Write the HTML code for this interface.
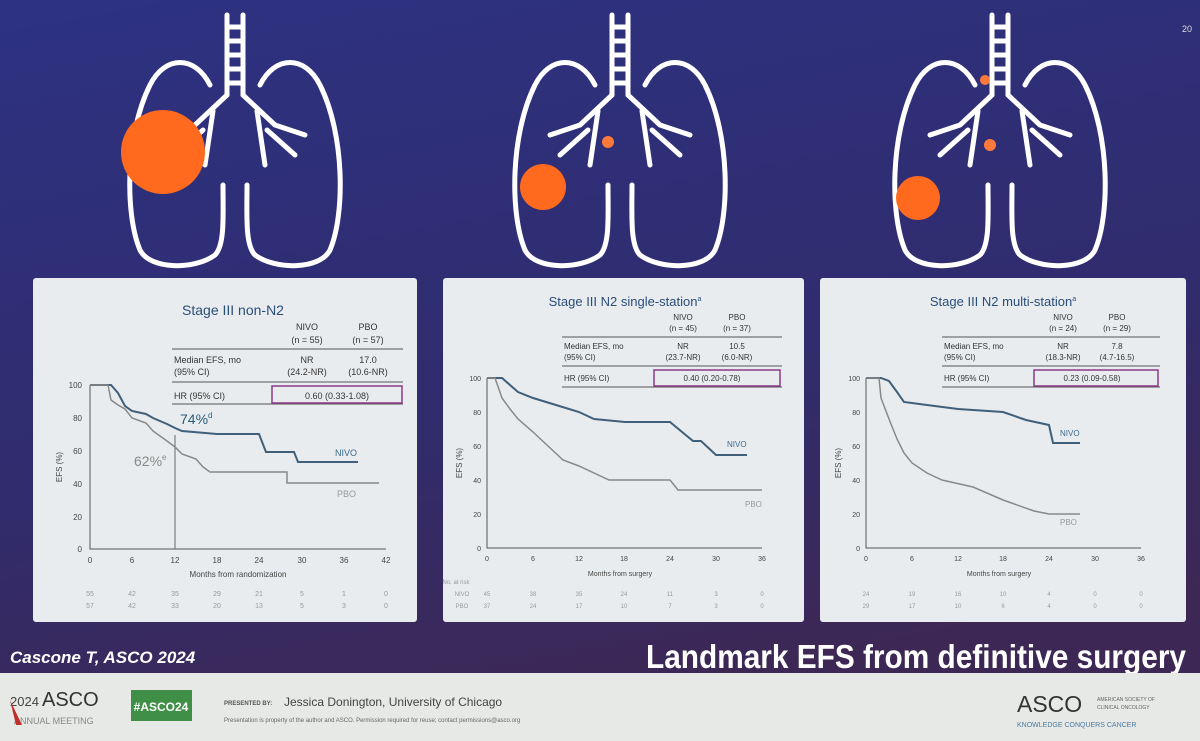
<!DOCTYPE html>
<html><head><meta charset="utf-8"><style>
html,body{margin:0;padding:0;width:1200px;height:741px;overflow:hidden;font-family:"Liberation Sans",sans-serif}
</style></head><body>
<svg width="1200" height="741" viewBox="0 0 1200 741" xmlns="http://www.w3.org/2000/svg" font-family="Liberation Sans, sans-serif">
<defs>
<linearGradient id="bg" x1="0" y1="0" x2="0.3" y2="1">
<stop offset="0" stop-color="#2d3282"/><stop offset="0.6" stop-color="#302c6e"/><stop offset="1" stop-color="#3d2855"/>
</linearGradient>
<g id="lung" fill="none" stroke="#fff" stroke-width="5" stroke-linejoin="round" stroke-linecap="round">
<path d="M-8,0 V80 M8,0 V80 M-8,12 H8 M-8,26 H8 M-8,40 H8 M-8,54 H8 M-8,68 H8"/>
<path d="M-8,80 L-40,110 M8,80 L40,110 M-22,96 L-30,150 M-32,115 L-60,140 M22,96 L30,150 M32,115 L60,140 M-40,110 L-70,120 M40,110 L70,120"/>
<path d="M-25,70 C-40,40 -70,40 -85,70 C-110,120 -110,200 -95,235 C-85,255 -40,255 -20,240 C-10,230 -12,200 -12,170"/>
<path d="M25,70 C40,40 70,40 85,70 C110,120 110,200 95,235 C85,255 40,255 20,240 C10,230 12,200 12,170"/>
</g>
</defs>
<rect width="1200" height="741" fill="url(#bg)"/>
<text x="1182" y="32" fill="#ddd" font-size="9">20</text>
<use href="#lung" x="235" y="15"/>
<use href="#lung" x="620" y="15"/>
<use href="#lung" x="1000" y="15"/>
<circle cx="163" cy="152" r="42" fill="#ff6a1f"/>
<circle cx="543" cy="187" r="23" fill="#ff6a1f"/>
<circle cx="608" cy="142" r="6" fill="#ff7a3a"/>
<circle cx="918" cy="198" r="22" fill="#ff6a1f"/>
<circle cx="990" cy="145" r="6" fill="#ff7a3a"/>
<circle cx="985" cy="80" r="5" fill="#ff7a3a"/>

<!-- panel 1 -->
<rect x="33" y="278" width="384" height="344" rx="3" fill="#e9ecee"/>
<text x="233" y="315" fill="#2a4d7a" font-size="14" text-anchor="middle">Stage III non-N2</text>
<g font-size="9" fill="#333" text-anchor="middle">
<text x="307" y="330">NIVO</text><text x="368" y="330">PBO</text>
<text x="307" y="343">(n = 55)</text><text x="368" y="343">(n = 57)</text>
<text x="307" y="363">NR</text><text x="368" y="363">17.0</text>
<text x="307" y="375">(24.2-NR)</text><text x="368" y="375">(10.6-NR)</text>
<text x="337" y="399">0.60 (0.33-1.08)</text>
</g>
<g font-size="9" fill="#333"><text x="174" y="363">Median EFS, mo</text><text x="174" y="375">(95% CI)</text><text x="174" y="399">HR (95% CI)</text></g>
<line x1="172" y1="349" x2="403" y2="349" stroke="#555"/><line x1="172" y1="382" x2="403" y2="382" stroke="#555"/><line x1="172" y1="404" x2="403" y2="404" stroke="#555"/>
<rect x="272" y="386" width="130" height="17" fill="none" stroke="#8a3a8a" stroke-width="1.5"/>
<g stroke="#555" fill="none"><path d="M90,385 V549 H386"/></g>
<g font-size="8" fill="#444" text-anchor="end"><text x="82" y="388">100</text><text x="82" y="421">80</text><text x="82" y="454">60</text><text x="82" y="487">40</text><text x="82" y="520">20</text><text x="82" y="552">0</text></g>
<g font-size="8" fill="#444" text-anchor="middle"><text x="90" y="563">0</text><text x="132" y="563">6</text><text x="175" y="563">12</text><text x="217" y="563">18</text><text x="259" y="563">24</text><text x="302" y="563">30</text><text x="344" y="563">36</text><text x="386" y="563">42</text>
<text x="238" y="577">Months from randomization</text></g>
<text x="62" y="467" font-size="8" fill="#444" transform="rotate(-90 62 467)" text-anchor="middle">EFS (%)</text>
<line x1="175" y1="435" x2="175" y2="549" stroke="#666"/>
<path d="M90,385 H111 L118,393 L125,406 L132,411 L146,414 L153,418 L167,424 L175,428 L182,431 L217,434 L259,434 L266,452 L294,452 L298,462 L358,462" fill="none" stroke="#3f5f7a" stroke-width="2"/>
<path d="M90,385 H108 L111,400 L118,405 L125,409 L132,418 L146,423 L153,431 L167,441 L175,447 L182,454 L196,459 L203,467 L210,472 L259,472 L287,472 L287,483 L379,483" fill="none" stroke="#888" stroke-width="1.5"/>
<text x="180" y="424" font-size="14" fill="#2a5a7a">74%<tspan font-size="8" dy="-6">d</tspan></text>
<text x="134" y="466" font-size="14" fill="#888">62%<tspan font-size="8" dy="-6">e</tspan></text>
<text x="335" y="456" font-size="9" fill="#3a6a8a">NIVO</text>
<text x="337" y="497" font-size="9" fill="#999">PBO</text>
<g font-size="7" fill="#999" text-anchor="middle"><text x="90" y="596">55</text><text x="132" y="596">42</text><text x="175" y="596">35</text><text x="217" y="596">29</text><text x="259" y="596">21</text><text x="302" y="596">5</text><text x="344" y="596">1</text><text x="386" y="596">0</text>
<text x="90" y="608">57</text><text x="132" y="608">42</text><text x="175" y="608">33</text><text x="217" y="608">20</text><text x="259" y="608">13</text><text x="302" y="608">5</text><text x="344" y="608">3</text><text x="386" y="608">0</text></g>

<!-- panel 2 -->
<rect x="443" y="278" width="361" height="344" rx="3" fill="#e9ecee"/>
<text x="625" y="306" fill="#2a4d7a" font-size="13" text-anchor="middle">Stage III N2 single-station<tspan font-size="7" dy="-5">a</tspan></text>
<g font-size="8" fill="#333" text-anchor="middle">
<text x="683" y="320">NIVO</text><text x="737" y="320">PBO</text>
<text x="683" y="331">(n = 45)</text><text x="737" y="331">(n = 37)</text>
<text x="683" y="349">NR</text><text x="737" y="349">10.5</text>
<text x="683" y="360">(23.7-NR)</text><text x="737" y="360">(6.0-NR)</text>
<text x="712" y="381">0.40 (0.20-0.78)</text>
</g>
<g font-size="8" fill="#333"><text x="564" y="349">Median EFS, mo</text><text x="564" y="360">(95% CI)</text><text x="564" y="381">HR (95% CI)</text></g>
<line x1="562" y1="337" x2="782" y2="337" stroke="#555"/><line x1="562" y1="366" x2="782" y2="366" stroke="#555"/><line x1="562" y1="387" x2="782" y2="387" stroke="#555"/>
<rect x="654" y="370" width="126" height="16" fill="none" stroke="#8a3a8a" stroke-width="1.5"/>
<path d="M487,378 V548 H762" stroke="#555" fill="none"/>
<g font-size="7" fill="#444" text-anchor="end"><text x="481" y="381">100</text><text x="481" y="415">80</text><text x="481" y="449">60</text><text x="481" y="483">40</text><text x="481" y="517">20</text><text x="481" y="551">0</text></g>
<g font-size="7" fill="#444" text-anchor="middle"><text x="487" y="561">0</text><text x="533" y="561">6</text><text x="579" y="561">12</text><text x="624" y="561">18</text><text x="670" y="561">24</text><text x="716" y="561">30</text><text x="762" y="561">36</text>
<text x="620" y="576">Months from surgery</text></g>
<text x="462" y="463" font-size="8" fill="#444" transform="rotate(-90 462 463)" text-anchor="middle">EFS (%)</text>
<path d="M487,378 H502 L510,385 L518,392 L533,398 L556,405 L579,412 L594,419 L625,422 L670,422 L693,441 L701,441 L716,455 L747,455" fill="none" stroke="#3f5f7a" stroke-width="2"/>
<path d="M487,378 H495 L502,398 L510,409 L518,419 L533,432 L548,446 L563,460 L579,466 L594,473 L609,480 L670,480 L678,490 L762,490" fill="none" stroke="#888" stroke-width="1.5"/>
<text x="727" y="447" font-size="8" fill="#3a6a8a">NIVO</text>
<text x="745" y="507" font-size="8" fill="#999">PBO</text>
<g font-size="6" fill="#999" text-anchor="middle"><text x="456" y="584">No. at risk</text><text x="462" y="596">NIVO</text><text x="487" y="596">45</text><text x="533" y="596">38</text><text x="579" y="596">35</text><text x="624" y="596">24</text><text x="670" y="596">11</text><text x="716" y="596">3</text><text x="762" y="596">0</text>
<text x="462" y="608">PBO</text><text x="487" y="608">37</text><text x="533" y="608">24</text><text x="579" y="608">17</text><text x="624" y="608">10</text><text x="670" y="608">7</text><text x="716" y="608">3</text><text x="762" y="608">0</text></g>

<!-- panel 3 -->
<rect x="820" y="278" width="366" height="344" rx="3" fill="#e9ecee"/>
<text x="1003" y="306" fill="#2a4d7a" font-size="13" text-anchor="middle">Stage III N2 multi-station<tspan font-size="7" dy="-5">a</tspan></text>
<g font-size="8" fill="#333" text-anchor="middle">
<text x="1063" y="320">NIVO</text><text x="1117" y="320">PBO</text>
<text x="1063" y="331">(n = 24)</text><text x="1117" y="331">(n = 29)</text>
<text x="1063" y="349">NR</text><text x="1117" y="349">7.8</text>
<text x="1063" y="360">(18.3-NR)</text><text x="1117" y="360">(4.7-16.5)</text>
<text x="1092" y="381">0.23 (0.09-0.58)</text>
</g>
<g font-size="8" fill="#333"><text x="944" y="349">Median EFS, mo</text><text x="944" y="360">(95% CI)</text><text x="944" y="381">HR (95% CI)</text></g>
<line x1="942" y1="337" x2="1160" y2="337" stroke="#555"/><line x1="942" y1="366" x2="1160" y2="366" stroke="#555"/><line x1="942" y1="387" x2="1160" y2="387" stroke="#555"/>
<rect x="1034" y="370" width="124" height="16" fill="none" stroke="#8a3a8a" stroke-width="1.5"/>
<path d="M866,378 V548 H1141" stroke="#555" fill="none"/>
<g font-size="7" fill="#444" text-anchor="end"><text x="860" y="381">100</text><text x="860" y="415">80</text><text x="860" y="449">60</text><text x="860" y="483">40</text><text x="860" y="517">20</text><text x="860" y="551">0</text></g>
<g font-size="7" fill="#444" text-anchor="middle"><text x="866" y="561">0</text><text x="912" y="561">6</text><text x="958" y="561">12</text><text x="1003" y="561">18</text><text x="1049" y="561">24</text><text x="1095" y="561">30</text><text x="1141" y="561">36</text>
<text x="999" y="576">Months from surgery</text></g>
<text x="841" y="463" font-size="8" fill="#444" transform="rotate(-90 841 463)" text-anchor="middle">EFS (%)</text>
<path d="M866,378 H881 L889,381 L897,392 L904,402 L927,405 L958,409 L1003,412 L1026,420 L1049,425 L1053,443 L1080,443" fill="none" stroke="#3f5f7a" stroke-width="2"/>
<path d="M866,378 H879 L881,398 L889,419 L897,439 L904,453 L912,463 L927,473 L942,480 L973,487 L1003,500 L1034,511 L1049,514 L1080,514" fill="none" stroke="#888" stroke-width="1.5"/>
<text x="1060" y="436" font-size="8" fill="#3a6a8a">NIVO</text>
<text x="1060" y="525" font-size="8" fill="#999">PBO</text>
<g font-size="6" fill="#999" text-anchor="middle"><text x="866" y="596">24</text><text x="912" y="596">19</text><text x="958" y="596">16</text><text x="1003" y="596">10</text><text x="1049" y="596">4</text><text x="1095" y="596">0</text><text x="1141" y="596">0</text>
<text x="866" y="608">29</text><text x="912" y="608">17</text><text x="958" y="608">10</text><text x="1003" y="608">6</text><text x="1049" y="608">4</text><text x="1095" y="608">0</text><text x="1141" y="608">0</text></g>

<text x="10" y="663" font-size="17" font-weight="bold" font-style="italic" fill="#fff">Cascone T, ASCO 2024</text>
<text x="1186" y="668" font-size="33" font-weight="bold" fill="#fff" text-anchor="end" textLength="540" lengthAdjust="spacingAndGlyphs">Landmark EFS from definitive surgery</text>

<rect x="0" y="673" width="1200" height="68" fill="#e7e9e6"/>
<text x="10" y="706" font-size="13" fill="#444">2024</text><text x="42" y="706" font-size="20" fill="#333">ASCO</text>
<text x="14" y="724" font-size="9" fill="#888">ANNUAL MEETING</text>
<path d="M10,700 L22,725 L16,725 Z" fill="#c0302a"/>
<rect x="131" y="690" width="61" height="31" fill="#3f8f46"/>
<text x="161" y="711" font-size="12" fill="#fff" text-anchor="middle" font-weight="bold">#ASCO24</text>
<text x="224" y="705" font-size="6" fill="#555" font-weight="bold">PRESENTED BY:</text>
<text x="284" y="706" font-size="12" fill="#444">Jessica Donington, University of Chicago</text>
<text x="224" y="722" font-size="6" fill="#666">Presentation is property of the author and ASCO. Permission required for reuse; contact permissions@asco.org</text>
<text x="1017" y="712" font-size="23" fill="#333">ASCO</text>
<text x="1097" y="701" font-size="5" fill="#666">AMERICAN SOCIETY OF</text><text x="1097" y="709" font-size="5" fill="#666">CLINICAL ONCOLOGY</text>
<text x="1017" y="727" font-size="7" fill="#4a7aa0">KNOWLEDGE CONQUERS CANCER</text>
</svg>
</body></html>
